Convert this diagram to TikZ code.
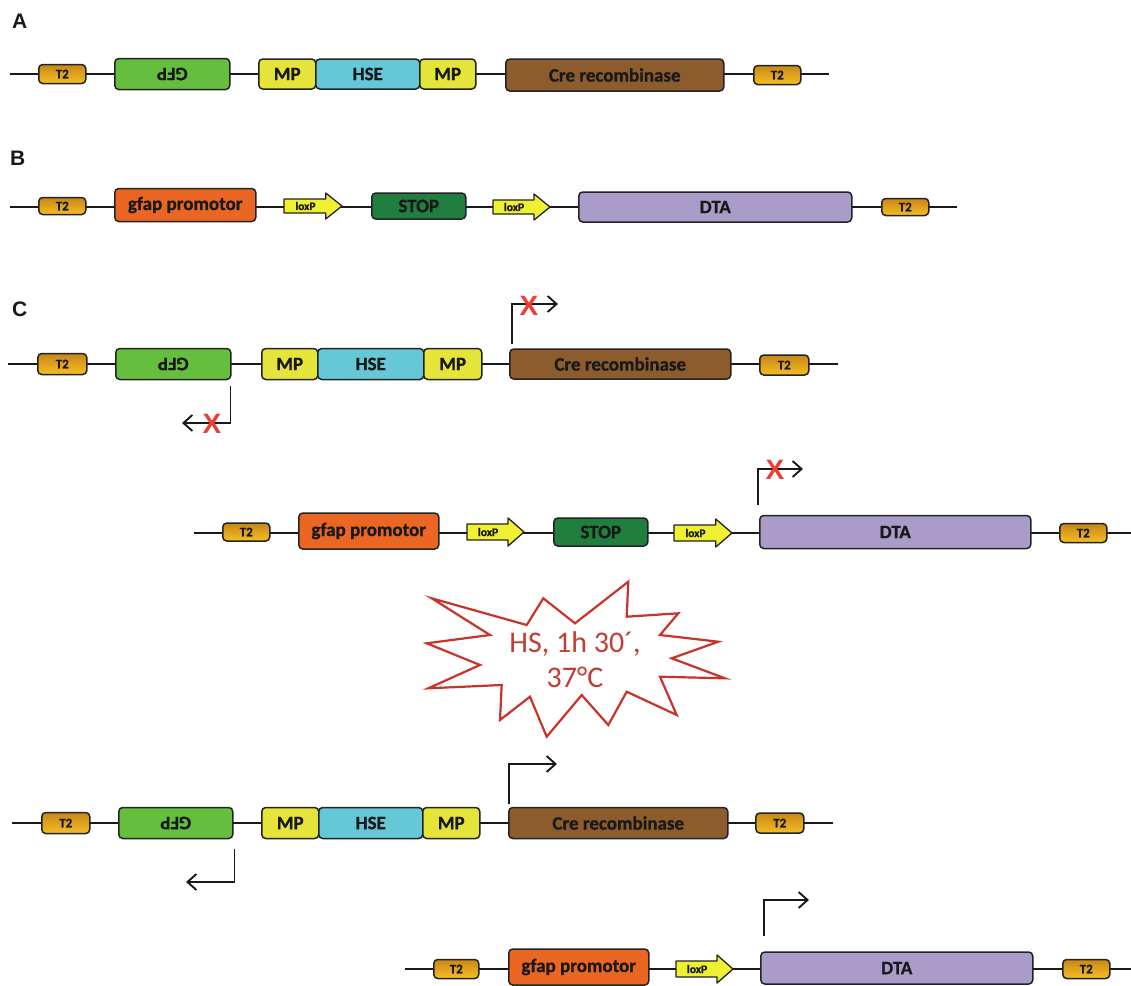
\documentclass[tikz,border=0pt]{standalone}
\usepackage{fontspec}
\usepackage{graphicx}
\setmainfont{Carlito}
\newfontfamily\boxfont{Carlito}[BoldFeatures={FakeBold=0.8}]
\newfontfamily\panelfont{Liberation Sans}
\usetikzlibrary{arrows.meta}

\definecolor{tlow}{RGB}{245,190,35}
\definecolor{ttop}{RGB}{200,135,25}
\definecolor{gfpcol}{RGB}{102,190,62}
\definecolor{mpcol}{RGB}{228,228,58}
\definecolor{hsecol}{RGB}{102,200,214}
\definecolor{crecol}{RGB}{140,92,44}
\definecolor{gfapcol}{RGB}{234,102,34}
\definecolor{stopcol}{RGB}{32,126,62}
\definecolor{loxcol}{RGB}{240,240,50}
\definecolor{dtacol}{RGB}{170,156,200}
\definecolor{burstcol}{RGB}{200,52,42}
\definecolor{bursttxt}{RGB}{192,62,52}
\definecolor{xcol}{RGB}{236,62,50}
\definecolor{edgecol}{RGB}{35,35,35}
\definecolor{inkcol}{RGB}{25,25,25}

\tikzset{
  backbone/.style={line width=1.6pt, draw=inkcol},
  gene/.style={draw=edgecol, line width=1.5pt, rounded corners=4pt, anchor=west,
    inner sep=0pt, text=inkcol, font=\boxfont\bfseries\fontsize{19}{19}\selectfont},
  tbox/.style={gene, top color=ttop, bottom color=tlow, minimum height=19,
    font=\boxfont\bfseries\fontsize{13}{13}\selectfont},
  gfpbox/.style={gene, fill=gfpcol, minimum height=31},
  mpbox/.style={gene, fill=mpcol, minimum height=30},
  hsebox/.style={gene, fill=hsecol, minimum height=30},
  crebox/.style={gene, fill=crecol, minimum height=31},
  gfapbox/.style={gene, fill=gfapcol, minimum height=33},
  stopbox/.style={gene, fill=stopcol, minimum height=26},
  dtabox/.style={gene, fill=dtacol, minimum height=31},
  loxshape/.style={draw=edgecol, line width=1.3pt, fill=loxcol, line join=round},
  loxtext/.style={inner sep=0pt, text=inkcol, font=\boxfont\bfseries\fontsize{11.5}{11.5}\selectfont},
  prom/.style={line width=1.9pt, draw=inkcol, -{Straight Barb[length=9pt,width=16pt,line width=1.9pt]}},
  xmark/.style={inner sep=0pt, text=xcol, font=\panelfont\bfseries\fontsize{28}{28}\selectfont},
  panel/.style={inner sep=0pt, anchor=base west, text=inkcol, font=\panelfont\bfseries\fontsize{21}{21}\selectfont},
  burst/.style={draw=burstcol, line width=2.2pt, fill=white, line join=miter},
  bursttext/.style={text=bursttxt, align=center, font=\fontsize{30}{35}\selectfont}
}

% loxP arrow: name, left x, centre y, length, body half-height, head half-height
\newcommand\loxarrow[6]{%
  \draw[loxshape] (#2,#3-#5) -- (#2+0.72*#4,#3-#5) -- (#2+0.72*#4,#3-#6)
    -- (#2+#4,#3) -- (#2+0.72*#4,#3+#6) -- (#2+0.72*#4,#3+#5) -- (#2,#3+#5) -- cycle;
  \node[loxtext] (#1) at (#2+0.37*#4,#3) {loxP};
}

\begin{document}
\begin{tikzpicture}[x=1pt, y=-1pt]
\useasboundingbox (0,0) rectangle (1131,985);
\fill[white] (0,0) rectangle (1131,985);

% ---------- panel A ----------
\node[panel] (lA) at (12,28) {A};
\coordinate (a0) at (10,74);
\coordinate (a1) at (829,74);
\draw[backbone] (a0) -- (a1);
\node[tbox, minimum width=47] (aT1) at (38,74) {T2};
\node[gfpbox, minimum width=115] (aG) at (114,74) {\rotatebox{180}{GFP}};
\node[mpbox, minimum width=57] (aM1) at (258,74) {MP};
\node[hsebox, minimum width=104] (aH) at (315,74) {HSE};
\node[mpbox, minimum width=56] (aM2) at (419,74) {MP};
\node[crebox, minimum width=218, minimum height=32] (aC) at (505,75) {Cre recombinase};
\node[tbox, minimum width=47] (aT2) at (753,75) {T2};

% ---------- panel B ----------
\node[panel] (lB) at (10,165) {B};
\coordinate (b0) at (10,207);
\coordinate (b1) at (957,207);
\draw[backbone] (b0) -- (b1);
\node[tbox, minimum width=47, minimum height=17] (bT1) at (38,206) {T2};
\node[gfapbox, minimum width=141] (bP) at (114,205) {gfap promotor};
\loxarrow{bL1}{284}{206}{58}{7}{13}
\node[stopbox, minimum width=94] (bS) at (371,206) {STOP};
\loxarrow{bL2}{493}{207}{57}{7}{13}
\node[dtabox, minimum width=273, minimum height=30] (bD) at (578,207) {DTA};
\node[tbox, minimum width=47, minimum height=17] (bT2) at (881,207) {T2};

% ---------- panel C, before heat shock ----------
\node[panel] (lC) at (12,316) {C};
\coordinate (c0) at (8,364);
\coordinate (c1) at (838,364);
\draw[backbone] (c0) -- (c1);
\node[tbox, minimum width=49, minimum height=21] (cT1) at (37,364) {T2};
\node[gfpbox, minimum width=115] (cG) at (115,364) {\rotatebox{180}{GFP}};
\node[mpbox, minimum width=56, minimum height=31] (cM1) at (261,364) {MP};
\node[hsebox, minimum width=106, minimum height=31] (cH) at (317,364) {HSE};
\node[mpbox, minimum width=58, minimum height=31] (cM2) at (423,364) {MP};
\node[crebox, minimum width=221, minimum height=30] (cC) at (509,364) {Cre recombinase};
\node[tbox, minimum width=49, minimum height=20] (cT2) at (759,365) {T2};

\coordinate (cCend) at (558,304);
\draw[prom] ([xshift=3pt,yshift=4pt]cC.north west) |- (cCend);
\node[xmark] (cX1) at (529,306) {X};
\coordinate (cGend) at (182,423);
\draw[prom] ([xshift=-1pt,yshift=-6pt]cG.south east) |- (cGend);
\node[xmark] (cX2) at (212,424) {X};

\coordinate (d0) at (194,533);
\coordinate (d1) at (1131,533);
\draw[backbone] (d0) -- (d1);
\node[tbox, minimum width=47, minimum height=18] (dT1) at (222,532) {T2};
\node[gfapbox, minimum width=140, minimum height=36] (dP) at (298,531) {gfap promotor};
\loxarrow{dL1}{467}{532}{57}{8}{14}
\node[stopbox, minimum width=94, minimum height=28] (dS) at (553,532) {STOP};
\loxarrow{dL2}{674}{533}{58}{8}{14}
\node[dtabox, minimum width=271, minimum height=33] (dD) at (759,532) {DTA};
\node[tbox, minimum width=47, minimum height=19] (dT2) at (1059,533) {T2};

\coordinate (dDend) at (803,469);
\draw[prom] ([xshift=-1pt,yshift=10pt]dD.north west) |- (dDend);
\node[xmark] (dX) at (775,470) {X};

% ---------- heat shock ----------
\draw[burst] (431.7,598.3) -- (526.7,625) -- (543.3,598.3) -- (575,623.3)
  -- (628.3,581.7) -- (626.7,616.7) -- (678.3,613.3) -- (660,635)
  -- (718.3,641.7) -- (671.7,658.3) -- (725,678.3) -- (660,676.7)
  -- (676.7,715) -- (626.7,691.7) -- (608.3,725) -- (581.7,695)
  -- (546.7,736.7) -- (530,696.7) -- (500,720) -- (501.7,685)
  -- (428.3,688.3) -- (480,665) -- (426.7,643.3) -- (490,635) -- cycle;
\node[bursttext] (hs) at (575,660) {HS, 1h 30´,\\37°C};

% ---------- panel C, after heat shock ----------
\coordinate (e0) at (12,823);
\coordinate (e1) at (833,823);
\draw[backbone] (e0) -- (e1);
\node[tbox, minimum width=48, minimum height=21] (eT1) at (41,823) {T2};
\node[gfpbox, minimum width=114] (eG) at (118,823) {\rotatebox{180}{GFP}};
\node[mpbox, minimum width=57, minimum height=31] (eM1) at (261,823) {MP};
\node[hsebox, minimum width=104, minimum height=31] (eH) at (318,823) {HSE};
\node[mpbox, minimum width=57, minimum height=31] (eM2) at (422,823) {MP};
\node[crebox, minimum width=219, minimum height=31] (eC) at (508,823) {Cre recombinase};
\node[tbox, minimum width=48, minimum height=20] (eT2) at (755,823) {T2};

\coordinate (eCend) at (557,764);
\draw[prom] ([xshift=1pt,yshift=3pt]eC.north west) |- (eCend);
\coordinate (eGend) at (186,882);
\draw[prom] ([xshift=1pt,yshift=-10pt]eG.south east) |- (eGend);

\coordinate (f0) at (405,969);
\coordinate (f1) at (1131,969);
\draw[backbone] (f0) -- (f1);
\node[tbox, minimum width=45, minimum height=19] (fT1) at (433,969) {T2};
\node[gfapbox, minimum width=140, minimum height=36] (fP) at (508,967) {gfap promotor};
\loxarrow{fL}{676}{969}{57}{8}{14}
\node[dtabox, minimum width=272, minimum height=32] (fD) at (760,968) {DTA};
\node[tbox, minimum width=47, minimum height=19] (fT2) at (1062,969) {T2};

\coordinate (fDend) at (809,900);
\draw[prom] ([xshift=4pt,yshift=15pt]fD.north west) |- (fDend);
\end{tikzpicture}
\end{document}
